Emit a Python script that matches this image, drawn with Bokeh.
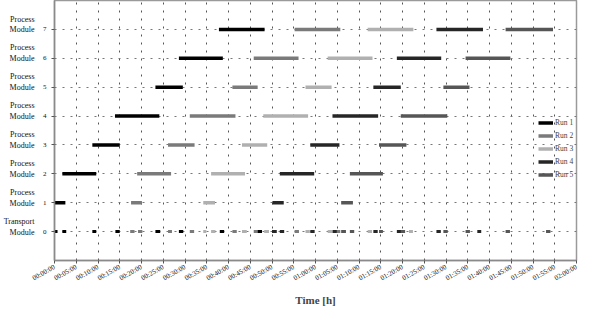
from bokeh.plotting import figure
from bokeh.models import FixedTicker, Range1d, Legend, LegendItem, ColumnDataSource, LinearAxis
from bokeh.embed import file_html
from bokeh.resources import INLINE

# ---------------- data (minutes) ----------------
runs = ["Run 1", "Run 2", "Run 3", "Run 4", "Run 5"]
run_colors = ["#000000", "#7a7a7a", "#b0b0b0", "#262626", "#565656"]
levels = [1, 2, 3, 4, 5, 6, 7]

run1_start = [0.0, 1.8, 8.7, 13.9, 23.2, 28.6, 37.8]
run1_end = [2.5, 9.6, 15.0, 24.1, 29.5, 38.7, 48.3]
run2_start = [17.6, 19.0, 26.1, 31.1, 40.9, 45.8, 55.2]
run2_end = [20.1, 26.8, 32.2, 41.6, 46.7, 56.1, 65.7]
run3_start = [34.2, 36.0, 43.1, 48.0, 57.7, 62.8, 72.0]
run3_end = [36.9, 43.8, 48.9, 58.3, 63.7, 73.1, 82.5]
run4_start = [50.1, 51.8, 58.8, 63.9, 73.3, 78.7, 87.8]
run4_end = [52.7, 59.7, 65.5, 74.4, 79.6, 88.9, 98.5]
run5_start = [65.9, 67.9, 74.6, 79.6, 89.4, 94.5, 103.7]
run5_end = [68.6, 75.5, 80.9, 90.3, 95.4, 104.8, 114.6]

# transport module moves (level 0)
tr1_start = [0.0, 1.8, 8.7, 14.0, 23.2, 28.6, 38.0, 46.6]
tr1_end = [0.7, 2.7, 9.6, 15.0, 24.3, 29.6, 39.0, 47.7]
tr2_start = [17.4, 19.2, 26.1, 31.1, 40.9, 45.8, 55.2, 64.8]
tr2_end = [18.4, 20.2, 27.0, 32.1, 41.9, 46.7, 56.2, 65.7]
tr3_start = [34.2, 36.0, 43.1, 48.2, 57.7, 62.8, 72.0, 81.5]
tr3_end = [34.9, 37.0, 44.2, 49.3, 58.7, 63.8, 73.0, 82.4]
tr4_start = [50.0, 51.8, 58.8, 63.9, 73.3, 78.7, 87.8, 97.2]
tr4_end = [51.1, 52.8, 59.8, 64.9, 74.3, 79.7, 88.8, 98.1]
tr5_start = [65.9, 67.9, 74.6, 79.6, 89.4, 94.5, 103.7, 113.0]
tr5_end = [67.0, 68.9, 75.5, 80.6, 90.4, 95.5, 104.7, 114.0]

x_ticks = [0, 5, 10, 15, 20, 25, 30, 35, 40, 45, 50, 55, 60, 65, 70, 75, 80, 85, 90, 95, 100, 105, 110, 115, 120]
x_tick_labels = ["00:00:00", "00:05:00", "00:10:00", "00:15:00", "00:20:00", "00:25:00", "00:30:00",
                 "00:35:00", "00:40:00", "00:45:00", "00:50:00", "00:55:00", "01:00:00", "01:05:00",
                 "01:10:00", "01:15:00", "01:20:00", "01:25:00", "01:30:00", "01:35:00", "01:40:00",
                 "01:45:00", "01:50:00", "01:55:00", "02:00:00"]
y_ticks = [0, 1, 2, 3, 4, 5, 6, 7]
module_names = ["Transport\nModule", "Process\nModule", "Process\nModule", "Process\nModule",
                "Process\nModule", "Process\nModule", "Process\nModule", "Process\nModule"]

starts = [run1_start, run2_start, run3_start, run4_start, run5_start]
ends = [run1_end, run2_end, run3_end, run4_end, run5_end]
tr_starts = [tr1_start, tr2_start, tr3_start, tr4_start, tr5_start]
tr_ends = [tr1_end, tr2_end, tr3_end, tr4_end, tr5_end]

FONT = "Liberation Serif"

p = figure(width=578, height=308, output_backend="svg", toolbar_location=None,
           x_range=Range1d(0, 120), y_range=Range1d(-1, 8),
           min_border_left=0, min_border_right=2, min_border_top=0, min_border_bottom=0)
# second range only lifts the two-line module names so "Module" sits on the level line
p.extra_y_ranges = {"names": Range1d(-1.17, 7.83)}

p.background_fill_color = "white"
p.border_fill_color = "white"
p.outline_line_color = "#9a9a9a"
p.outline_line_width = 1.5

# grids
p.xgrid.ticker = FixedTicker(ticks=x_ticks)
p.xgrid.grid_line_color = "#555555"
p.xgrid.grid_line_dash = "2 6"
p.xgrid.grid_line_width = 1
p.ygrid.ticker = FixedTicker(ticks=y_ticks)
p.ygrid.grid_line_color = "#777777"
p.ygrid.grid_line_dash = "2 6"
p.ygrid.grid_line_width = 1

# axes
p.xaxis.ticker = FixedTicker(ticks=x_ticks)
p.xaxis.major_label_overrides = {t: l for t, l in zip(x_ticks, x_tick_labels)}
p.xaxis.major_label_orientation = 0.52
p.xaxis.major_label_text_font = FONT
p.xaxis.major_label_text_font_size = "7px"
p.xaxis.major_label_text_color = "#111111"
p.xaxis.major_label_standoff = 3
p.xaxis.axis_line_color = "#8a8a8a"
p.xaxis.axis_line_width = 1.5
p.xaxis.major_tick_line_color = "#555555"
p.xaxis.major_tick_in = 0
p.xaxis.major_tick_out = 3
p.xaxis.minor_tick_line_color = None
p.xaxis.axis_label = "Time [h]"
p.xaxis.axis_label_text_font = FONT
p.xaxis.axis_label_text_font_style = "bold"
p.xaxis.axis_label_text_font_size = "11px"
p.xaxis.axis_label_standoff = 5

p.yaxis.ticker = FixedTicker(ticks=y_ticks)
p.yaxis.major_label_text_font = FONT
p.yaxis.major_label_text_font_size = "7px"
p.yaxis.major_label_text_color = "#111111"
p.yaxis.axis_line_color = "#8a8a8a"
p.yaxis.axis_line_width = 1.5
p.yaxis.major_tick_line_color = "#555555"
p.yaxis.major_tick_in = 0
p.yaxis.major_tick_out = 3
p.yaxis.minor_tick_line_color = None
p.yaxis.major_label_standoff = 5

# module-name axis (outer left)
name_axis = LinearAxis(y_range_name="names", ticker=FixedTicker(ticks=y_ticks),
                       major_label_overrides={t: n for t, n in zip(y_ticks, module_names)})
name_axis.axis_line_color = None
name_axis.major_tick_line_color = None
name_axis.minor_tick_line_color = None
name_axis.major_tick_in = 0
name_axis.major_tick_out = 0
name_axis.major_label_standoff = 5
name_axis.major_label_text_font = FONT
name_axis.major_label_text_font_size = "8px"
name_axis.major_label_text_color = "#111111"
name_axis.major_label_text_align = "left"
p.add_layout(name_axis, "left")

# module occupation bars
items = []
for name, col, st, en in zip(runs, run_colors, starts, ends):
    src = ColumnDataSource(dict(x0=st, x1=en, y=levels))
    r = p.segment(x0="x0", y0="y", x1="x1", y1="y", source=src,
                  line_color=col, line_width=3.5, line_cap="butt")
    items.append(LegendItem(label=name, renderers=[r]))

# transport module moves
for col, st, en in zip(run_colors, tr_starts, tr_ends):
    src = ColumnDataSource(dict(x0=st, x1=en, y=[0] * len(st)))
    p.segment(x0="x0", y0="y", x1="x1", y1="y", source=src,
              line_color=col, line_width=3, line_cap="butt")

legend = Legend(items=items, location=(484, 81))
legend.background_fill_alpha = 0
legend.border_line_color = None
legend.label_text_font = FONT
legend.label_text_font_size = "7.5px"
legend.label_height = 9
legend.glyph_height = 9
legend.glyph_width = 15
legend.spacing = 4
legend.padding = 0
legend.margin = 0
legend.label_standoff = 2
p.add_layout(legend, "center")

open("out.html", "w").write(file_html(p, INLINE))
